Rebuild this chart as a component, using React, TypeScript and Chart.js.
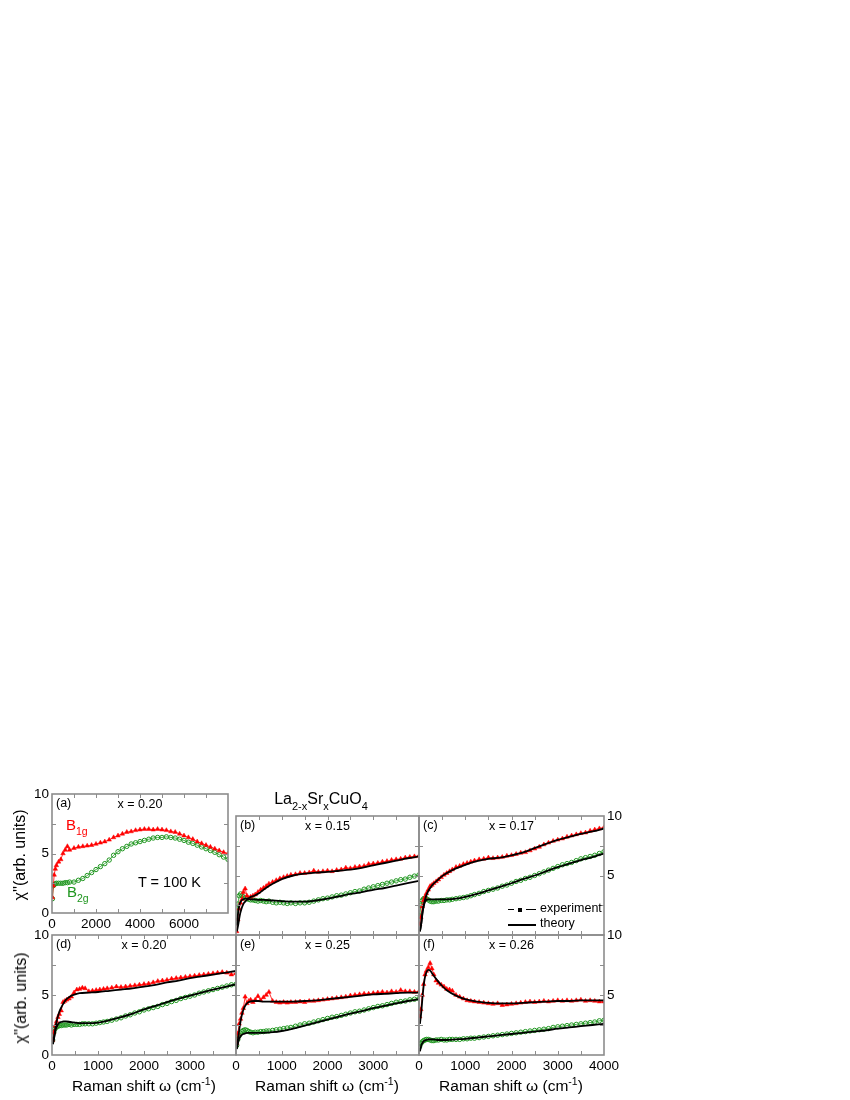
import React, { useEffect, useRef } from 'react';
import { Chart, registerables } from 'chart.js';

Chart.register(...registerables);

// ---------------- DATA ----------------
// panel (a): 0-8000 cm^-1
const X_A = [20, 60, 100, 150, 200, 300, 400, 500, 600, 700, 800, 1000, 1200, 1400, 1600, 1800, 2000, 2200, 2400, 2600, 2800, 3000, 3200, 3400, 3600, 3800, 4000, 4200, 4400, 4600, 4800, 5000, 5200, 5400, 5600, 5800, 6000, 6200, 6400, 6600, 6800, 7000, 7200, 7400, 7600, 7800, 8000];
const A_B1G = [1.3, 2.3, 3.2, 3.7, 4.0, 4.3, 4.5, 5.0, 5.3, 5.6, 5.3, 5.45, 5.55, 5.6, 5.65, 5.7, 5.8, 5.9, 6.0, 6.15, 6.35, 6.5, 6.65, 6.8, 6.85, 6.95, 7.0, 7.05, 7.05, 7.0, 7.05, 7.0, 6.95, 6.85, 6.8, 6.65, 6.5, 6.35, 6.2, 6.0, 5.85, 5.7, 5.55, 5.4, 5.25, 5.1, 5.0];
const A_B2G = [1.2, 2.3, 2.4, 2.45, 2.5, 2.5, 2.5, 2.5, 2.55, 2.55, 2.6, 2.6, 2.75, 2.9, 3.15, 3.4, 3.65, 3.9, 4.15, 4.45, 4.85, 5.15, 5.4, 5.6, 5.8, 5.9, 6.0, 6.1, 6.2, 6.3, 6.35, 6.35, 6.4, 6.35, 6.3, 6.2, 6.1, 5.95, 5.85, 5.7, 5.55, 5.4, 5.25, 5.1, 4.9, 4.7, 4.5];

// panels (b)-(f): 0-4000 cm^-1
const X_EXP = [15, 40, 70, 100, 130, 160, 200, 240, 280, 320, 370, 420, 480, 540, 600, 660, 720, 800, 880, 960, 1040, 1120, 1200, 1300, 1400, 1500, 1600, 1700, 1800, 1900, 2000, 2100, 2200, 2300, 2400, 2500, 2600, 2700, 2800, 2900, 3000, 3100, 3200, 3300, 3400, 3500, 3600, 3700, 3800, 3900, 4000];
const X_TH = [20, 50, 80, 120, 160, 200, 250, 300, 400, 500, 600, 800, 1000, 1250, 1500, 1750, 2000, 2250, 2500, 2750, 3000, 3250, 3500, 3750, 4000];

const B_B1G = [0.3, 1.3, 2.2, 2.7, 3.0, 3.6, 3.9, 3.3, 3.1, 3.2, 3.3, 3.4, 3.6, 3.8, 3.95, 4.1, 4.3, 4.45, 4.6, 4.75, 4.85, 4.95, 5.05, 5.1, 5.2, 5.2, 5.25, 5.4, 5.3, 5.35, 5.4, 5.35, 5.45, 5.5, 5.65, 5.6, 5.7, 5.75, 5.8, 5.95, 6.0, 6.05, 6.15, 6.2, 6.3, 6.35, 6.4, 6.5, 6.55, 6.6, 6.65];
const B_B2G = [1.2, 2.6, 3.3, 3.45, 3.3, 3.2, 3.1, 3.05, 3.0, 2.95, 2.95, 2.9, 2.85, 2.9, 2.85, 2.8, 2.85, 2.75, 2.7, 2.75, 2.7, 2.65, 2.7, 2.65, 2.7, 2.7, 2.75, 2.85, 2.95, 3.05, 3.1, 3.2, 3.3, 3.35, 3.45, 3.55, 3.65, 3.7, 3.85, 3.95, 4.05, 4.15, 4.25, 4.35, 4.45, 4.55, 4.65, 4.7, 4.85, 4.95, 5.05];
const B_TH1 = [0.3, 0.9, 1.6, 2.2, 2.6, 2.8, 3.0, 3.15, 3.3, 3.5, 3.8, 4.3, 4.7, 5.0, 5.15, 5.25, 5.3, 5.4, 5.5, 5.65, 5.85, 6.05, 6.25, 6.45, 6.6];
const B_TH2 = [0.8, 2.0, 2.6, 2.9, 3.0, 3.05, 3.05, 3.0, 3.0, 2.95, 2.95, 2.9, 2.85, 2.8, 2.8, 2.9, 3.05, 3.25, 3.45, 3.6, 3.8, 3.95, 4.15, 4.35, 4.55];

const C_B1G = [0.9, 1.5, 2.4, 2.9, 3.2, 3.5, 3.8, 4.1, 4.2, 4.35, 4.5, 4.65, 4.85, 5.05, 5.2, 5.35, 5.5, 5.7, 5.8, 5.95, 6.05, 6.15, 6.25, 6.35, 6.4, 6.5, 6.45, 6.5, 6.55, 6.65, 6.7, 6.8, 6.9, 6.95, 7.1, 7.25, 7.4, 7.6, 7.75, 7.9, 8.0, 8.1, 8.25, 8.35, 8.45, 8.55, 8.6, 8.75, 8.85, 8.95, 9.05];
const C_B2G = [1.6, 2.5, 2.9, 3.05, 3.1, 3.05, 2.95, 2.85, 2.8, 2.8, 2.85, 2.85, 2.9, 2.9, 2.95, 2.95, 3.0, 3.05, 3.1, 3.15, 3.2, 3.3, 3.4, 3.5, 3.65, 3.75, 3.85, 3.95, 4.1, 4.2, 4.35, 4.5, 4.6, 4.75, 4.85, 5.0, 5.15, 5.3, 5.45, 5.6, 5.75, 5.9, 6.0, 6.1, 6.25, 6.4, 6.5, 6.6, 6.7, 6.85, 7.0];
const C_TH1 = [0.3, 1.0, 2.0, 2.8, 3.35, 3.7, 4.0, 4.25, 4.6, 4.95, 5.2, 5.6, 5.9, 6.2, 6.4, 6.5, 6.7, 6.95, 7.3, 7.65, 8.0, 8.25, 8.5, 8.7, 8.95];
const C_TH2 = [0.3, 1.0, 2.0, 2.7, 2.95, 3.0, 3.0, 3.0, 3.0, 3.0, 3.0, 3.05, 3.2, 3.45, 3.75, 4.05, 4.35, 4.7, 5.0, 5.35, 5.7, 6.0, 6.3, 6.55, 6.85];

const D_B1G = [1.25, 1.9, 2.45, 2.8, 3.15, 3.4, 3.7, 4.4, 4.5, 4.6, 4.7, 4.85, 5.2, 5.45, 5.5, 5.6, 5.55, 5.3, 5.35, 5.4, 5.45, 5.5, 5.55, 5.6, 5.7, 5.65, 5.7, 5.75, 5.8, 5.85, 5.9, 5.95, 6.05, 6.15, 6.2, 6.25, 6.35, 6.4, 6.45, 6.5, 6.55, 6.6, 6.65, 6.7, 6.75, 6.8, 6.85, 6.9, 6.85, 6.7, 6.8];
const D_B2G = [1.25, 1.9, 2.2, 2.35, 2.4, 2.45, 2.45, 2.5, 2.5, 2.5, 2.55, 2.5, 2.55, 2.55, 2.55, 2.6, 2.6, 2.6, 2.6, 2.65, 2.7, 2.75, 2.8, 2.9, 3.0, 3.1, 3.25, 3.35, 3.5, 3.6, 3.75, 3.85, 3.95, 4.05, 4.2, 4.3, 4.45, 4.55, 4.7, 4.8, 4.9, 5.0, 5.15, 5.25, 5.35, 5.45, 5.55, 5.65, 5.75, 5.85, 5.9];
const D_TH1 = [0.9, 1.6, 2.4, 3.1, 3.6, 3.95, 4.3, 4.6, 4.9, 5.05, 5.15, 5.2, 5.25, 5.35, 5.45, 5.55, 5.7, 5.85, 6.05, 6.2, 6.4, 6.55, 6.7, 6.85, 7.0];
const D_TH2 = [0.9, 1.5, 2.1, 2.5, 2.7, 2.75, 2.8, 2.8, 2.75, 2.7, 2.65, 2.65, 2.7, 2.9, 3.15, 3.45, 3.8, 4.1, 4.4, 4.7, 4.95, 5.2, 5.45, 5.65, 5.9];

const E_B1G = [1.0, 1.8, 2.6, 3.0, 3.5, 3.9, 4.85, 4.3, 4.5, 4.6, 4.4, 4.6, 4.9, 4.55, 4.8, 5.0, 5.25, 4.5, 4.4, 4.35, 4.4, 4.35, 4.4, 4.4, 4.45, 4.4, 4.5, 4.5, 4.55, 4.6, 4.65, 4.7, 4.75, 4.8, 4.85, 4.95, 5.0, 5.05, 5.1, 5.1, 5.15, 5.2, 5.25, 5.2, 5.3, 5.25, 5.4, 5.3, 5.3, 5.25, 5.3];
const E_B2G = [0.8, 1.3, 1.6, 1.8, 1.95, 2.05, 2.1, 2.05, 1.95, 1.9, 1.85, 1.9, 1.9, 1.95, 1.95, 2.0, 2.0, 2.05, 2.1, 2.15, 2.2, 2.25, 2.3, 2.4, 2.5, 2.6, 2.65, 2.75, 2.85, 2.95, 3.05, 3.15, 3.2, 3.3, 3.4, 3.5, 3.6, 3.65, 3.75, 3.85, 3.95, 4.05, 4.1, 4.2, 4.3, 4.4, 4.45, 4.5, 4.6, 4.65, 4.7];
const E_TH1 = [0.7, 1.5, 2.35, 3.2, 3.75, 4.1, 4.35, 4.45, 4.5, 4.5, 4.45, 4.45, 4.45, 4.45, 4.5, 4.55, 4.65, 4.75, 4.85, 4.95, 5.05, 5.1, 5.15, 5.2, 5.2];
const E_TH2 = [0.5, 1.1, 1.45, 1.65, 1.75, 1.8, 1.85, 1.85, 1.85, 1.85, 1.85, 1.9, 2.0, 2.2, 2.45, 2.7, 2.95, 3.2, 3.45, 3.65, 3.9, 4.1, 4.3, 4.5, 4.65];

const F_B1G = [3.2, 3.8, 5.0, 5.9, 6.7, 7.0, 7.3, 7.65, 7.2, 6.7, 6.2, 6.0, 5.85, 5.7, 5.5, 5.45, 5.35, 5.0, 4.85, 4.7, 4.55, 4.5, 4.45, 4.4, 4.35, 4.3, 4.25, 4.3, 4.15, 4.2, 4.25, 4.3, 4.35, 4.4, 4.45, 4.4, 4.45, 4.5, 4.45, 4.5, 4.55, 4.5, 4.55, 4.5, 4.55, 4.6, 4.5, 4.55, 4.5, 4.45, 4.45];
const F_B2G = [0.7, 0.95, 1.1, 1.2, 1.25, 1.3, 1.3, 1.25, 1.2, 1.2, 1.25, 1.25, 1.3, 1.25, 1.25, 1.3, 1.3, 1.3, 1.3, 1.35, 1.35, 1.4, 1.4, 1.45, 1.5, 1.55, 1.6, 1.65, 1.7, 1.75, 1.8, 1.85, 1.9, 1.95, 2.0, 2.05, 2.1, 2.15, 2.2, 2.3, 2.35, 2.4, 2.45, 2.5, 2.55, 2.6, 2.65, 2.7, 2.75, 2.85, 2.9];
const F_TH1 = [2.6, 3.6, 5.0, 6.3, 6.9, 7.1, 7.0, 6.7, 6.2, 5.75, 5.4, 4.95, 4.65, 4.45, 4.35, 4.3, 4.3, 4.35, 4.4, 4.45, 4.5, 4.5, 4.55, 4.55, 4.55];
const F_TH2 = [0.3, 0.8, 1.05, 1.2, 1.25, 1.3, 1.3, 1.3, 1.25, 1.25, 1.25, 1.3, 1.35, 1.45, 1.55, 1.65, 1.75, 1.85, 1.95, 2.05, 2.2, 2.3, 2.4, 2.5, 2.6];

// tick values / labels
const X_LABELS_A = [0, 2000, 4000, 6000];
const X_LABELS_BOTTOM = [0, 1000, 2000, 3000];
const X_LABELS_LAST = [0, 1000, 2000, 3000, 4000];
const Y_LABELS_ALL = [0, 5, 10];
const Y_LABELS_UPPER = [5, 10];
const X_MINOR_A = [1000, 2000, 3000, 4000, 5000, 6000, 7000];
const X_MINOR = [500, 1000, 1500, 2000, 2500, 3000, 3500];
const Y_MINOR = [2.5, 5, 7.5];
const DOPING = ['x = 0.20', 'x = 0.15', 'x = 0.17', 'x = 0.20', 'x = 0.25', 'x = 0.26'];
const TAGS = ['(a)', '(b)', '(c)', '(d)', '(e)', '(f)'];

// ---------------- STYLE ----------------
const FONT = "'Liberation Sans', Arial, Helvetica, sans-serif";
const RED = '#ff0000';
const GREEN = '#1f961f';
const FRAME = '#8c8c8c';
const YW = 40;
const XH = 26;
const PT = 14;

type Cfg = {
  left: number; top: number; w: number; h: number;
  xMax: number; xStep: number; xLabels: number[]; xMinor: number[];
  yRight: boolean; yLabels: number[];
  ex: number[]; b1: number[]; b2: number[];
  tx?: number[]; t1?: number[]; t2?: number[];
};

const PANELS: Cfg[] = [
  { left: 52, top: 794, w: 176, h: 119, xMax: 8000, xStep: 2000, xLabels: X_LABELS_A, xMinor: X_MINOR_A, yRight: false, yLabels: Y_LABELS_ALL, ex: X_A, b1: A_B1G, b2: A_B2G },
  { left: 236, top: 816, w: 183, h: 119, xMax: 4000, xStep: 1000, xLabels: [], xMinor: X_MINOR, yRight: false, yLabels: [], ex: X_EXP, b1: B_B1G, b2: B_B2G, tx: X_TH, t1: B_TH1, t2: B_TH2 },
  { left: 419, top: 816, w: 185, h: 119, xMax: 4000, xStep: 1000, xLabels: [], xMinor: X_MINOR, yRight: true, yLabels: Y_LABELS_UPPER, ex: X_EXP, b1: C_B1G, b2: C_B2G, tx: X_TH, t1: C_TH1, t2: C_TH2 },
  { left: 52, top: 935, w: 184, h: 120, xMax: 4000, xStep: 1000, xLabels: X_LABELS_BOTTOM, xMinor: X_MINOR, yRight: false, yLabels: Y_LABELS_ALL, ex: X_EXP, b1: D_B1G, b2: D_B2G, tx: X_TH, t1: D_TH1, t2: D_TH2 },
  { left: 236, top: 935, w: 183, h: 120, xMax: 4000, xStep: 1000, xLabels: X_LABELS_BOTTOM, xMinor: X_MINOR, yRight: false, yLabels: [], ex: X_EXP, b1: E_B1G, b2: E_B2G, tx: X_TH, t1: E_TH1, t2: E_TH2 },
  { left: 419, top: 935, w: 185, h: 120, xMax: 4000, xStep: 1000, xLabels: X_LABELS_LAST, xMinor: X_MINOR, yRight: true, yLabels: Y_LABELS_UPPER, ex: X_EXP, b1: F_B1G, b2: F_B2G, tx: X_TH, t1: F_TH1, t2: F_TH2 },
];

const framePlugin = {
  id: 'frame',
  afterDatasetsDraw(chart: any, _args: any, opts: any) {
    const { ctx, chartArea: a, scales } = chart;
    const xs = scales.x;
    const ys = scales.y;
    ctx.save();
    ctx.strokeStyle = FRAME;
    ctx.lineWidth = 1;
    ctx.beginPath();
    for (const v of opts.xMinor) {
      const px = Math.round(xs.getPixelForValue(v)) + 0.5;
      ctx.moveTo(px, a.top); ctx.lineTo(px, a.top + 4);
      ctx.moveTo(px, a.bottom); ctx.lineTo(px, a.bottom - 4);
    }
    for (const v of opts.yMinor) {
      const py = Math.round(ys.getPixelForValue(v)) + 0.5;
      ctx.moveTo(a.left, py); ctx.lineTo(a.left + 4, py);
      ctx.moveTo(a.right, py); ctx.lineTo(a.right - 4, py);
    }
    ctx.stroke();
    ctx.lineWidth = 1.6;
    ctx.strokeRect(a.left, a.top, a.right - a.left, a.bottom - a.top);
    ctx.restore();
  },
};

function pts(xs: number[], ys: number[]) {
  return xs.map((x, i) => ({ x, y: ys[i] }));
}

function Panel({ c }: { c: Cfg }) {
  const ref = useRef<HTMLCanvasElement>(null);
  const cw = c.w + 2 * YW;
  const ch = c.h + PT + XH;
  useEffect(() => {
    const ds: any[] = [];
    if (c.tx && c.t1 && c.t2) {
      for (const t of [c.t1, c.t2]) {
        ds.push({
          data: pts(c.tx, t), showLine: true, borderColor: '#000', borderWidth: 1.8,
          pointRadius: 0, cubicInterpolationMode: 'monotone', order: 0,
        });
      }
    }
    ds.push({
      data: pts(c.ex, c.b1), showLine: true, borderColor: RED, borderWidth: 0.8,
      pointStyle: 'triangle', pointRadius: 2.6, pointBackgroundColor: RED,
      pointBorderColor: RED, pointBorderWidth: 0.5, order: 1,
    });
    ds.push({
      data: pts(c.ex, c.b2), showLine: true, borderColor: GREEN, borderWidth: 0.8,
      pointStyle: 'circle', pointRadius: 2.2, pointBackgroundColor: 'rgba(255,255,255,0)',
      pointBorderColor: GREEN, pointBorderWidth: 1, order: 2,
    });
    const tickFont = { family: FONT, size: 13.5 };
    const chart = new Chart(ref.current as HTMLCanvasElement, {
      type: 'scatter',
      data: { datasets: ds },
      options: {
        responsive: false,
        animation: false,
        events: [],
        layout: { padding: { left: c.yRight ? YW : 0, right: c.yRight ? 0 : YW, top: PT, bottom: 0 } },
        plugins: {
          legend: { display: false },
          tooltip: { enabled: false },
          frame: { xMinor: c.xMinor, yMinor: Y_MINOR },
        } as any,
        scales: {
          x: {
            type: 'linear', position: 'bottom', min: 0, max: c.xMax,
            grid: { display: false, drawTicks: false },
            border: { display: false },
            ticks: {
              display: c.xLabels.length > 0, stepSize: c.xStep, autoSkip: false, maxRotation: 0,
              padding: 3, color: '#000', font: tickFont,
              callback: (v: any) => (c.xLabels.includes(Number(v)) ? String(v) : ''),
            },
            afterFit: (s: any) => { s.height = XH; },
          },
          y: {
            type: 'linear', position: c.yRight ? 'right' : 'left', min: 0, max: 10,
            grid: { display: false, drawTicks: false },
            border: { display: false },
            ticks: {
              display: c.yLabels.length > 0, stepSize: 5, autoSkip: false,
              padding: 3, color: '#000', font: tickFont,
              callback: (v: any) => (c.yLabels.includes(Number(v)) ? String(v) : ''),
            },
            afterFit: (s: any) => { s.width = YW; },
          },
        },
      } as any,
      plugins: [framePlugin],
    });
    return () => chart.destroy();
  }, []);
  return (
    <canvas
      ref={ref}
      width={cw}
      height={ch}
      style={{ position: 'absolute', left: c.left - YW, top: c.top - PT, width: cw, height: ch }}
    />
  );
}

function Txt(props: { x: number; b: number; s: number; color?: string; center?: boolean; children: any }) {
  const { x, b, s, color = '#000', center = false, children } = props;
  return (
    <div
      style={{
        position: 'absolute', left: x, top: b - 0.85 * s, fontSize: s, lineHeight: 1,
        fontFamily: FONT, color, whiteSpace: 'nowrap',
        transform: center ? 'translateX(-50%)' : undefined,
      }}
    >
      {children}
    </div>
  );
}

function Sub({ s, dy, children }: { s: number; dy: number; children: any }) {
  return <span style={{ fontSize: s, position: 'relative', top: dy, lineHeight: 1 }}>{children}</span>;
}

function YTitle({ cx, cy }: { cx: number; cy: number }) {
  return (
    <div
      style={{
        position: 'absolute', left: cx, top: cy, fontSize: 16, lineHeight: 1, fontFamily: FONT,
        whiteSpace: 'nowrap', transform: 'translate(-50%, -50%) rotate(-90deg)',
      }}
    >
      χ''(arb. units)
    </div>
  );
}

function XTitle({ cx }: { cx: number }) {
  return (
    <Txt x={cx} b={1091} s={15.5} center>
      Raman shift ω (cm<Sub s={10.5} dy={-6}>-1</Sub>)
    </Txt>
  );
}

export default function App() {
  return (
    <div style={{ position: 'absolute', left: 0, top: 0, width: 850, height: 1100, background: '#fff' }}>
      {PANELS.map((c, i) => (
        <Panel key={i} c={c} />
      ))}
      {PANELS.map((c, i) => (
        <React.Fragment key={'t' + i}>
          <Txt x={c.left + 4} b={c.top + 14} s={12.5}>{TAGS[i]}</Txt>
          <Txt x={c.left + c.w / 2} b={c.top + 15} s={12.5} center>{DOPING[i]}</Txt>
        </React.Fragment>
      ))}
      {/* title */}
      <Txt x={321} b={805} s={16} center>
        La<Sub s={11} dy={6}>2-x</Sub>Sr<Sub s={11} dy={6}>x</Sub>CuO<Sub s={11} dy={6}>4</Sub>
      </Txt>
      {/* panel (a) annotations */}
      <Txt x={66} b={830} s={15} color={RED}>
        B<Sub s={10.5} dy={5}>1g</Sub>
      </Txt>
      <Txt x={67} b={897} s={15} color={GREEN}>
        B<Sub s={10.5} dy={5}>2g</Sub>
      </Txt>
      <Txt x={138} b={887} s={14.5}>T = 100 K</Txt>
      {/* legend in (c) */}
      <div style={{ position: 'absolute', left: 508, top: 909, width: 6, height: 1, background: '#000' }} />
      <div style={{ position: 'absolute', left: 518, top: 907.5, width: 4, height: 4, background: '#000' }} />
      <div style={{ position: 'absolute', left: 526, top: 909, width: 10, height: 1, background: '#000' }} />
      <Txt x={540} b={913} s={12.5}>experiment</Txt>
      <div style={{ position: 'absolute', left: 508, top: 924, width: 28, height: 2, background: '#000' }} />
      <Txt x={540} b={928} s={12.5}>theory</Txt>
      {/* axis titles */}
      <YTitle cx={20} cy={855} />
      <YTitle cx={21} cy={998} />
      <XTitle cx={144} />
      <XTitle cx={327} />
      <XTitle cx={511} />
    </div>
  );
}
